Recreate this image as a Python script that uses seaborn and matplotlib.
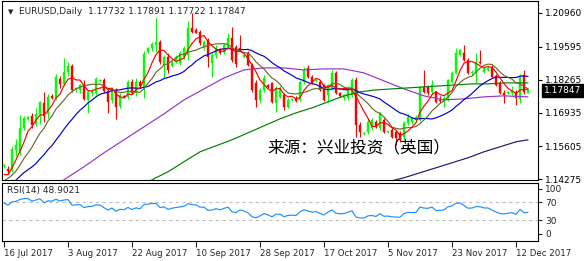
import numpy as np
import pandas as pd
import matplotlib
matplotlib.use("Agg")
import matplotlib.pyplot as plt
import seaborn as sns

# ---------------- data ----------------
symbol_title = "EURUSD,Daily  1.17732 1.17891 1.17722 1.17847"
rsi_title = "RSI(14) 48.9021"
watermark = "来源：兴业投资（英国）"

# trading days Sun-Fri, 16 Jul 2017 .. 15 Dec 2017 (MT4 daily bars)
start_date, end_date = "2017-07-16", "2017-12-15"

open_ = [1.1482, 1.1470, 1.1466, 1.1546, 1.1542, 1.1634, 1.1670, 1.1682, 1.1650, 1.1690,
         1.1734, 1.1690, 1.1762, 1.1754, 1.1830, 1.1810, 1.1858, 1.1882, 1.1786, 1.1786,
         1.1806, 1.1746, 1.1774, 1.1774, 1.1822, 1.1826, 1.1782, 1.1746, 1.1786, 1.1722,
         1.1762, 1.1758, 1.1818, 1.1774, 1.1818, 1.1798, 1.1938, 1.1954, 1.1966, 1.1978,
         1.1886, 1.1918, 1.1882, 1.1898, 1.1894, 1.1918, 1.1926, 1.2034, 1.2026, 1.2018,
         1.1954, 1.1986, 1.1894, 1.1926, 1.1946, 1.1938, 1.1958, 1.1994, 1.1958, 1.1954,
         1.1918, 1.1934, 1.1886, 1.1814, 1.1746, 1.1786, 1.1806, 1.1814, 1.1734, 1.1758,
         1.1766, 1.1718, 1.1746, 1.1754, 1.1746, 1.1818, 1.1874, 1.1838, 1.1822, 1.1818,
         1.1806, 1.1766, 1.1794, 1.1854, 1.1774, 1.1754, 1.1754, 1.1766, 1.1826, 1.1646,
         1.1610, 1.1618, 1.1634, 1.1658, 1.1634, 1.1666, 1.1618, 1.1626, 1.1618, 1.1614,
         1.1598, 1.1654, 1.1658, 1.1666, 1.1666, 1.1798, 1.1798, 1.1778, 1.1778, 1.1746,
         1.1738, 1.1746, 1.1818, 1.1854, 1.1926, 1.1934, 1.1906, 1.1854, 1.1854, 1.1898,
         1.1858, 1.1866, 1.1878, 1.1842, 1.1814, 1.1774, 1.1774, 1.1774, 1.1778, 1.1750,
         1.1846, 1.17732]
high = [1.1490, 1.1482, 1.1562, 1.1590, 1.1686, 1.1682, 1.1682, 1.1694, 1.1714, 1.1742,
        1.1778, 1.1770, 1.1770, 1.1850, 1.1842, 1.1914, 1.1898, 1.1890, 1.1798, 1.1810,
        1.1826, 1.1786, 1.1790, 1.1838, 1.1830, 1.1834, 1.1794, 1.1798, 1.1794, 1.1774,
        1.1766, 1.1826, 1.1830, 1.1834, 1.1826, 1.1942, 1.1958, 1.1978, 1.2074, 1.1986,
        1.1926, 1.1934, 1.1906, 1.1926, 1.1942, 1.1962, 1.2062, 1.2094, 1.2034, 1.2026,
        1.1986, 1.1994, 1.1934, 1.1966, 1.1954, 1.1974, 1.2014, 1.2038, 1.1966, 1.2006,
        1.1926, 1.1942, 1.1894, 1.1826, 1.1794, 1.1846, 1.1810, 1.1818, 1.1802, 1.1802,
        1.1774, 1.1754, 1.1754, 1.1762, 1.1826, 1.1878, 1.1886, 1.1846, 1.1830, 1.1826,
        1.1810, 1.1810, 1.1866, 1.1862, 1.1778, 1.1770, 1.1802, 1.1834, 1.1838, 1.1658,
        1.1618, 1.1674, 1.1674, 1.1666, 1.1698, 1.1674, 1.1622, 1.1634, 1.1626, 1.1622,
        1.1662, 1.1690, 1.1678, 1.1686, 1.1802, 1.1866, 1.1806, 1.1826, 1.1782, 1.1762,
        1.1762, 1.1830, 1.1862, 1.1954, 1.1950, 1.1966, 1.1914, 1.1866, 1.1934, 1.1946,
        1.1878, 1.1882, 1.1886, 1.1850, 1.1822, 1.1786, 1.1782, 1.1802, 1.1786, 1.1850,
        1.1866, 1.17891]
low = [1.1474, 1.1450, 1.1458, 1.1522, 1.1526, 1.1626, 1.1666, 1.1634, 1.1642, 1.1650,
       1.1658, 1.1674, 1.1750, 1.1746, 1.1794, 1.1802, 1.1842, 1.1778, 1.1778, 1.1774,
       1.1746, 1.1694, 1.1762, 1.1766, 1.1818, 1.1774, 1.1694, 1.1734, 1.1670, 1.1714,
       1.1758, 1.1750, 1.1770, 1.1762, 1.1794, 1.1754, 1.1934, 1.1942, 1.1938, 1.1890,
       1.1834, 1.1854, 1.1878, 1.1894, 1.1886, 1.1910, 1.1906, 1.2014, 1.2014, 1.1966,
       1.1946, 1.1878, 1.1838, 1.1914, 1.1930, 1.1930, 1.1950, 1.1898, 1.1878, 1.1942,
       1.1914, 1.1882, 1.1778, 1.1718, 1.1734, 1.1778, 1.1794, 1.1734, 1.1698, 1.1754,
       1.1706, 1.1714, 1.1742, 1.1738, 1.1742, 1.1810, 1.1834, 1.1810, 1.1818, 1.1782,
       1.1742, 1.1738, 1.1786, 1.1770, 1.1758, 1.1746, 1.1746, 1.1758, 1.1598, 1.1598,
       1.1606, 1.1610, 1.1626, 1.1634, 1.1626, 1.1614, 1.1614, 1.1594, 1.1566, 1.1578,
       1.1590, 1.1646, 1.1650, 1.1662, 1.1662, 1.1774, 1.1766, 1.1770, 1.1734, 1.1734,
       1.1718, 1.1742, 1.1814, 1.1850, 1.1922, 1.1902, 1.1850, 1.1846, 1.1814, 1.1890,
       1.1854, 1.1862, 1.1834, 1.1802, 1.1770, 1.1734, 1.1770, 1.1766, 1.1726, 1.1734,
       1.1770, 1.17722]
close = [1.1486, 1.1462, 1.1550, 1.1566, 1.1634, 1.1674, 1.1678, 1.1646, 1.1690, 1.1738,
         1.1682, 1.1758, 1.1754, 1.1838, 1.1810, 1.1858, 1.1882, 1.1786, 1.1794, 1.1806,
         1.1750, 1.1778, 1.1782, 1.1830, 1.1826, 1.1782, 1.1738, 1.1786, 1.1718, 1.1766,
         1.1758, 1.1818, 1.1774, 1.1818, 1.1802, 1.1930, 1.1954, 1.1970, 1.1978, 1.1898,
         1.1918, 1.1866, 1.1898, 1.1918, 1.1934, 1.1954, 1.2034, 1.2018, 1.2014, 1.1974,
         1.1978, 1.1918, 1.1926, 1.1954, 1.1934, 1.1966, 1.1994, 1.1906, 1.1890, 1.1946,
         1.1926, 1.1886, 1.1786, 1.1746, 1.1786, 1.1834, 1.1798, 1.1738, 1.1794, 1.1794,
         1.1718, 1.1746, 1.1750, 1.1742, 1.1818, 1.1866, 1.1838, 1.1814, 1.1826, 1.1786,
         1.1746, 1.1806, 1.1854, 1.1774, 1.1762, 1.1766, 1.1794, 1.1826, 1.1646, 1.1618,
         1.1614, 1.1658, 1.1666, 1.1638, 1.1694, 1.1618, 1.1622, 1.1598, 1.1594, 1.1586,
         1.1654, 1.1678, 1.1674, 1.1678, 1.1798, 1.1778, 1.1774, 1.1806, 1.1738, 1.1742,
         1.1754, 1.1826, 1.1854, 1.1934, 1.1946, 1.1906, 1.1854, 1.1858, 1.1898, 1.1894,
         1.1874, 1.1874, 1.1838, 1.1806, 1.1774, 1.1766, 1.1778, 1.1786, 1.1754, 1.1842,
         1.1778, 1.17847]

# closes of the bars just before the visible window (needed by the short averages / RSI)
prior_close = [1.1196, 1.1195, 1.1180, 1.1335, 1.1375, 1.1445, 1.1426, 1.1420, 1.1362, 1.1348,
               1.1353, 1.1423, 1.1400, 1.1398, 1.1401, 1.1465, 1.1413, 1.1400, 1.1469]

purple_bar = [10, 15, 20, 25, 30, 35, 40, 45, 50, 55, 60, 65, 70, 75, 80, 85, 90, 95, 100,
              105, 110, 115, 120, 125, 131]
purple_val = [1.1370, 1.1426, 1.1478, 1.1534, 1.1586, 1.1638, 1.1690, 1.1746, 1.1790, 1.1834,
              1.1866, 1.1874, 1.1874, 1.1866, 1.1870, 1.1870, 1.1854, 1.1822, 1.1790, 1.1762,
              1.1746, 1.1750, 1.1758, 1.1762, 1.1758]
green_bar = [33, 37, 41, 45, 49, 53, 57, 61, 65, 69, 73, 77, 81, 85, 89, 93, 97, 101, 105,
             109, 113, 117, 121, 125, 131]
green_val = [1.1386, 1.1426, 1.1458, 1.1498, 1.1538, 1.1562, 1.1586, 1.1614, 1.1642, 1.1670,
             1.1694, 1.1714, 1.1738, 1.1762, 1.1778, 1.1786, 1.1790, 1.1794, 1.1798, 1.1802,
             1.1806, 1.1810, 1.1810, 1.1814, 1.1814]
navy_bar = [92, 97, 100, 104, 108, 112, 116, 120, 124, 128, 131]
navy_val = [1.1398, 1.1422, 1.1434, 1.1454, 1.1474, 1.1494, 1.1514, 1.1538, 1.1558, 1.1578, 1.1586]

price_ticks = [1.20960, 1.19595, 1.18265, 1.16935, 1.15605, 1.14275]
rsi_ticks = [100, 70, 30, 0]
rsi_levels = [70, 30]
date_tick_labels = ["16 Jul 2017", "3 Aug 2017", "22 Aug 2017", "10 Sep 2017", "28 Sep 2017",
                    "17 Oct 2017", "5 Nov 2017", "23 Nov 2017", "12 Dec 2017"]

# ---------------- derived ----------------
dates = pd.date_range(start_date, end_date, freq="D")
dates = dates[dates.dayofweek != 5]
df = pd.DataFrame({"date": dates, "open": open_, "high": high, "low": low, "close": close})
df["x"] = np.arange(len(df))
n_prior = len(prior_close)
allc = pd.Series(prior_close + close)
df["ma5"] = allc.rolling(5).mean().iloc[n_prior:].values
df["ma10"] = allc.rolling(10).mean().iloc[n_prior:].values
df["ma20"] = allc.rolling(20, min_periods=18).mean().iloc[n_prior:].values
d = allc.diff()
up = d.clip(lower=0).ewm(alpha=1 / 14, adjust=False).mean()
dn = (-d.clip(upper=0)).ewm(alpha=1 / 14, adjust=False).mean()
df["rsi"] = (100 - 100 / (1 + up / dn)).iloc[n_prior:].values

date_pos = [int(np.where(df["date"] == pd.Timestamp(s))[0][0]) for s in date_tick_labels]

# ---------------- figure ----------------
sns.set_style("white")
plt.rcParams["font.family"] = ["DejaVu Sans"]
W, H = 584, 261
fig = plt.figure(figsize=(W / 100, H / 100), dpi=100)


def box(l, t, r, b):
    return [l / W, 1 - b / H, (r - l) / W, (b - t) / H]


ax = fig.add_axes(box(2, 1, 538, 180))
axr = fig.add_axes(box(2, 183, 538, 241))

BULL, BEAR = "#00FF00", "#FF0000"
cols = np.where(df["close"] >= df["open"], BULL, BEAR)
ax.vlines(df["x"], df["low"], df["high"], colors=cols, linewidth=0.8, zorder=2)
body_lo = np.minimum(df["open"], df["close"])
body_h = np.maximum(np.abs(df["close"] - df["open"]), 0.00008)
ax.bar(df["x"], body_h, bottom=body_lo, width=0.62, color=cols, edgecolor=cols,
       linewidth=0.3, zorder=3)

# moving averages
sns.lineplot(x=purple_bar, y=purple_val, ax=ax, color="#9932CC", linewidth=0.85, zorder=4)
sns.lineplot(x=green_bar, y=green_val, ax=ax, color="#008000", linewidth=0.85, zorder=4)
sns.lineplot(x=navy_bar, y=navy_val, ax=ax, color="#191970", linewidth=0.85, zorder=4)
sns.lineplot(data=df, x="x", y="ma20", ax=ax, color="#0000CD", linewidth=0.85, zorder=5)
sns.lineplot(data=df, x="x", y="ma10", ax=ax, color="#6B6B2F", linewidth=0.85, zorder=5)
sns.lineplot(data=df, x="x", y="ma5", ax=ax, color="#FF0000", linewidth=0.85, zorder=6)

ax.set_xlim(-0.5, 133.5)
ax.set_ylim(1.14250, 1.21421)
ax.set_xticks([])
ax.set_xlabel("")
ax.set_ylabel("")
ax.yaxis.tick_right()
ax.set_yticks(price_ticks)
ax.set_yticklabels([f"{v:.5f}" for v in price_ticks])
ax.tick_params(axis="y", direction="out", length=3, width=0.8, pad=2, labelsize=6.5,
               colors="black", right=True, left=False)

# current price box
ax.annotate(f"{close[-1]:.5f}", xy=(1, close[-1]), xycoords=("axes fraction", "data"),
            xytext=(4, 0), textcoords="offset points", va="center", ha="left",
            fontsize=6.5, color="white", annotation_clip=False,
            bbox=dict(boxstyle="square,pad=0.22", facecolor="black", edgecolor="black"))

# RSI panel
for lv in rsi_levels:
    axr.axhline(lv, color="#C0C0C0", linewidth=0.8, linestyle=(0, (3, 3)), zorder=1)
sns.lineplot(data=df, x="x", y="rsi", ax=axr, color="#1E90FF", linewidth=0.85, zorder=3)
axr.set_xlim(-0.5, 133.5)
axr.set_ylim(-15.6, 113.3)
axr.set_xlabel("")
axr.set_ylabel("")
axr.yaxis.tick_right()
axr.set_yticks(rsi_ticks)
axr.set_yticklabels([str(v) for v in rsi_ticks])
axr.tick_params(axis="y", direction="out", length=3, width=0.8, pad=2, labelsize=6.5,
                right=True, left=False)
axr.set_xticks(date_pos)
axr.set_xticklabels(date_tick_labels, ha="left")
axr.tick_params(axis="x", direction="out", length=4, width=0.8, pad=1.5, labelsize=6.2,
                bottom=True)

for a in (ax, axr):
    for s in a.spines.values():
        s.set_color("black")
        s.set_linewidth(0.8)
    a.grid(False)

# texts
fig.text(8 / W, 1 - 12 / H, "▼", fontsize=5, va="center", ha="left")
fig.text(19 / W, 1 - 12 / H, symbol_title, fontsize=6.5, va="center", ha="left")
fig.text(7 / W, 1 - 191 / H, rsi_title, fontsize=6.5, va="center", ha="left")
fig.text(267 / W, 1 - 148 / H, watermark, fontsize=12, va="center", ha="left",
         family=["Noto Sans CJK SC", "DejaVu Sans"], color="black")

fig.savefig("out.png", dpi=100, facecolor="white")
